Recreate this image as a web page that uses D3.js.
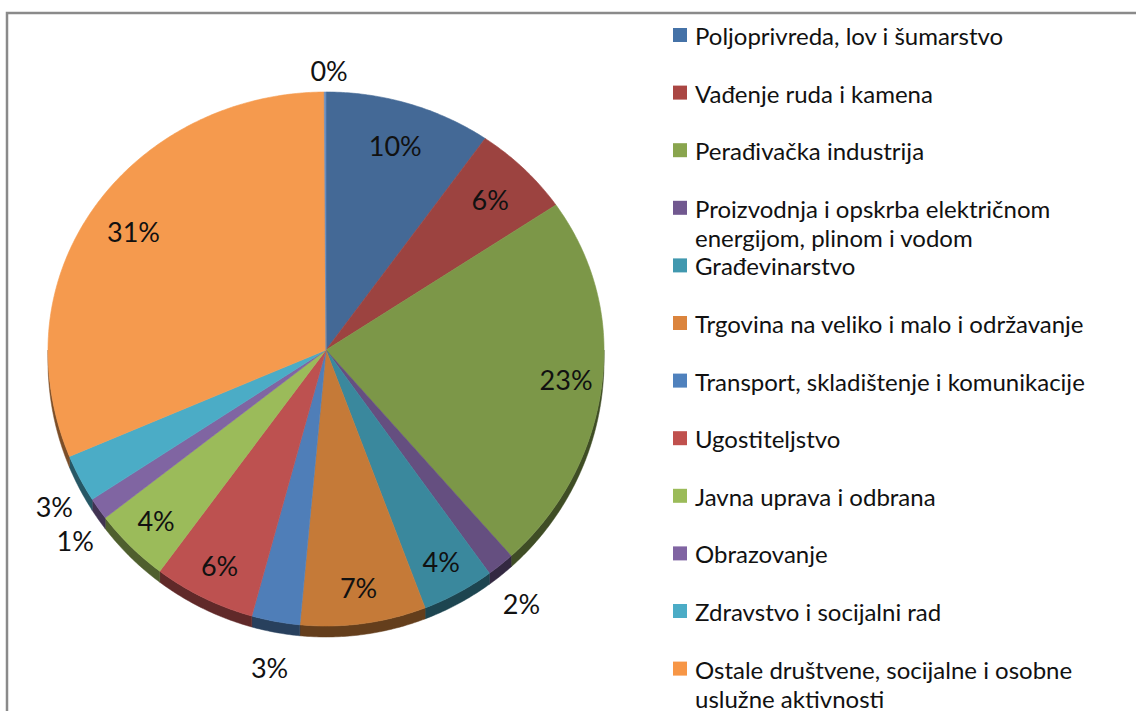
<!DOCTYPE html>
<html>
<head>
<meta charset="utf-8">
<script src="https://cdn.jsdelivr.net/npm/d3@7"></script>
<style>
  html, body { margin: 0; padding: 0; background: #ffffff; overflow: hidden; }
  svg { display: block; }
</style>
</head>
<body>
<svg id="chart" width="1136" height="711"></svg>
<script>
// ---- data ----
const categories = [
  "Poljoprivreda, lov i šumarstvo",
  "Vađenje ruda i kamena",
  "Perađivačka industrija",
  "Proizvodnja i opskrba električnom\nenergijom, plinom i vodom",
  "Građevinarstvo",
  "Trgovina na veliko i malo i održavanje",
  "Transport, skladištenje i komunikacije",
  "Ugostiteljstvo",
  "Javna uprava i odbrana",
  "Obrazovanje",
  "Zdravstvo i socijalni rad",
  "Ostale društvene, socijalne i osobne\nuslužne aktivnosti",
  "Privatna domaćinstva sa zaposlenim osobljem"
];
const values = [9.7, 5.8, 22.9, 1.6, 4.2, 7.3, 2.8, 5.9, 4.4, 1.3, 2.8, 31.2, 0.1];
const colors = [
  "#446996", "#9c4340", "#7c9748", "#654f80", "#3a889d", "#c57a38",
  "#4f7eb8", "#bd5150", "#9bbb5a", "#8065a2", "#4bacc6", "#f59a4e",
  "#6a8fc0"
];
const legendColors = [
  "#4572a7", "#aa4643", "#89a54e", "#71588f", "#4198af", "#db843d",
  "#4f81bd", "#c0504d", "#9bbb59", "#8064a2", "#4bacc6", "#f79646",
  "#2c4d75"
];

// ---- layout ----
const svg = d3.select("#chart");
const W = 1136, H = 711;
const cx = 326, cy = 350, rx = 278, ryTop = 258, ryBot = 276, depth = 11;

svg.append("rect").attr("width", W).attr("height", H).attr("fill", "#fff");
svg.append("rect")
  .attr("x", 7).attr("y", 13).attr("width", 1300).attr("height", 900)
  .attr("fill", "#fff").attr("stroke", "#8a8a8a").attr("stroke-width", 2.5);

const pie = d3.pie().sort(null).value(d => d).startAngle(0).endAngle(2 * Math.PI);
const arcs = pie(values);

function proj(a, k, dz) {
  const ux = Math.sin(a) * k, uy = -Math.cos(a) * k;
  return [cx + rx * ux, cy + (uy < 0 ? ryTop : ryBot) * uy + (dz || 0)];
}
function arcPts(a0, a1, k, dz) {
  const n = Math.max(2, Math.ceil((a1 - a0) / 0.01));
  return d3.range(n + 1).map(i => proj(a0 + (a1 - a0) * i / n, k, dz));
}
const line = d3.line();

// side walls (front half only)
const gSide = svg.append("g");
arcs.forEach((d, i) => {
  const s = Math.max(d.startAngle, Math.PI / 2), e = Math.min(d.endAngle, 3 * Math.PI / 2);
  if (e <= s) return;
  const top = arcPts(s, e, 1, 0);
  const bot = arcPts(s, e, 1, depth).reverse();
  const c = d3.color(colors[i]).darker(1.9).formatHex();
  gSide.append("path")
    .attr("d", line(top.concat(bot)) + "Z")
    .attr("fill", c).attr("stroke", c).attr("stroke-width", 0.5);
});

// top faces
const gTop = svg.append("g");
arcs.forEach((d, i) => {
  const pts = [[cx, cy]].concat(arcPts(d.startAngle, d.endAngle, 1, 0));
  gTop.append("path")
    .attr("d", line(pts) + "Z")
    .attr("fill", colors[i])
    .attr("stroke", colors[i])
    .attr("stroke-width", 0.6)
    .attr("stroke-linejoin", "round");
});

// data labels
const gLab = svg.append("g")
  .attr("font-family", "Lato, 'Open Sans', sans-serif")
  .attr("font-size", 27)
  .attr("fill", "#111");
arcs.forEach((d, i) => {
  const pct = d.value / d3.sum(values) * 100;
  const mid = (d.startAngle + d.endAngle) / 2;
  const outside = pct < 3.5;
  let p;
  if (outside) {
    const uy = -Math.cos(mid);
    if (uy < 0) p = [cx + rx * 1.1 * Math.sin(mid) + 4, cy + ryTop * 1.085 * uy];
    else p = proj(mid, 1.12, depth + 2);
  } else {
    p = proj(mid, -Math.cos(mid) < 0 ? 0.83 : 0.87, 0);
  }
  gLab.append("text")
    .attr("x", p[0] + (outside && Math.sin(mid) < -0.5 ? 4 : 0)).attr("y", p[1])
    .attr("text-anchor", "middle")
    .attr("dominant-baseline", "central")
    .text(Math.round(pct) + "%");
});

// legend
const gLeg = svg.append("g")
  .attr("font-family", "Lato, 'Open Sans', sans-serif")
  .attr("font-size", 24)
  .attr("fill", "#111");
categories.forEach((name, i) => {
  const y = 35 + 57.6 * i;
  if (y > H) return;
  gLeg.append("rect")
    .attr("x", 673).attr("y", y - 7).attr("width", 14).attr("height", 14)
    .attr("fill", legendColors[i]);
  const t = gLeg.append("text").attr("x", 695).attr("y", y).attr("dominant-baseline", "central");
  name.split("\n").forEach((ln, j) => {
    t.append("tspan").attr("x", 695).attr("dy", j === 0 ? 0 : 29).text(ln);
  });
});
</script>
</body>
</html>
